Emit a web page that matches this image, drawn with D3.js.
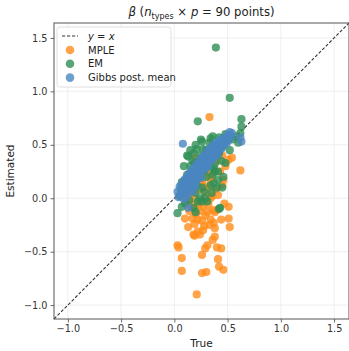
<!DOCTYPE html>
<html>
<head>
<meta charset="utf-8">
<script src="https://cdn.jsdelivr.net/npm/d3@7"></script>
<style>
  body { margin: 0; background: #fff; }
  svg { font-family: "DejaVu Sans", sans-serif; }
</style>
</head>
<body>
<svg id="chart" width="349" height="351"></svg>
<script>
// [true, estimated] pairs
const mplePoints = [
  [0.33, 0.76], [0.62, 0.26], [0.51, -0.08], [0.51, -0.19], [0.52, -0.27], [0.13, -0.27], [0.19, -0.35], [0.24, -0.34],
  [0.03, -0.44], [0.04, -0.46], [0.07, -0.56], [0.07, -0.68], [0.26, -0.53], [0.26, -0.70], [0.30, -0.69], [0.29, -0.47],
  [0.31, -0.44], [0.36, -0.39], [0.38, -0.36], [0.40, -0.46], [0.44, -0.47], [0.41, -0.57], [0.42, -0.64], [0.46, -0.67],
  [0.21, -0.90], [0.37, -0.23], [0.17, -0.19], [0.22, -0.20], [0.26, -0.21], [0.27, -0.30], [0.34, -0.20], [0.18, -0.34],
  [0.22, -0.31], [0.10, -0.19], [0.31, -0.13], [0.38, -0.13], [0.40, -0.11], [0.41, 0.03], [0.45, 0.12], [0.46, 0.17],
  [0.18, -0.09], [0.22, -0.06], [0.27, -0.08], [0.32, -0.06], [0.36, -0.11], [0.15, -0.02], [0.20, 0.38], [0.22, 0.19],
  [0.34, 0.17], [0.32, 0.10], [0.51, 0.36], [0.54, 0.38], [0.18, 0.03], [0.22, -0.04], [0.34, 0.00], [0.10, 0.10],
  [0.14, 0.12], [0.25, 0.28], [0.28, 0.30], [0.42, 0.45], [0.05, 0.02], [0.14, -0.12], [0.20, -0.15], [0.24, -0.12],
  [0.29, -0.16], [0.33, -0.25], [0.19, -0.24], [0.28, -0.26], [0.12, -0.05], [0.25, -0.02], [0.30, 0.05], [0.36, 0.02],
  [0.39, 0.08], [0.16, 0.05], [0.23, 0.08], [0.27, 0.12], [0.35, 0.20], [0.43, 0.25], [0.48, 0.30], [0.40, 0.35],
  [0.31, 0.22], [0.11, 0.00], [0.09, 0.04], [0.44, -0.20], [0.47, -0.05], [0.38, -0.28], [0.21, 0.25], [0.26, 0.16],
  [0.34, 0.28], [0.45, 0.40]
];
const emPoints = [
  [0.39, 1.41], [0.52, 0.94], [0.22, 0.72], [0.63, 0.74], [0.63, 0.67], [0.62, 0.61], [0.26, 0.53], [0.34, 0.56],
  [0.42, 0.57], [0.21, 0.46], [0.12, 0.40], [0.18, 0.42], [0.13, 0.39], [0.17, 0.35], [0.36, 0.22], [0.38, 0.25],
  [0.41, 0.17], [0.37, 0.14], [0.40, 0.10], [0.45, 0.10], [0.07, 0.15], [0.15, 0.10], [0.31, -0.03], [0.43, -0.09],
  [0.07, -0.08], [0.18, -0.09], [0.26, -0.03], [0.48, 0.33], [0.03, -0.14], [0.20, -0.13], [0.42, -0.10], [0.22, -0.03],
  [0.29, 0.00], [0.20, 0.50], [0.15, 0.30], [0.25, 0.40], [0.30, 0.45], [0.35, 0.48], [0.28, 0.38], [0.22, 0.30],
  [0.32, 0.35], [0.40, 0.40], [0.45, 0.48], [0.50, 0.55], [0.24, 0.20], [0.27, 0.25], [0.33, 0.30], [0.36, 0.38],
  [0.10, 0.15], [0.12, 0.22], [0.08, 0.05], [0.05, 0.02], [0.18, 0.20], [0.21, 0.12], [0.26, 0.10], [0.30, 0.20],
  [0.34, 0.12], [0.38, 0.32], [0.42, 0.42], [0.47, 0.52], [0.16, 0.25], [0.29, 0.27], [0.31, 0.40], [0.37, 0.28],
  [0.39, 0.50], [0.44, 0.35], [0.20, 0.05], [0.24, 0.00], [0.14, -0.02], [0.10, -0.05], [0.28, 0.06], [0.35, 0.05],
  [0.41, 0.25], [0.46, 0.20], [0.52, 0.45], [0.55, 0.55], [0.19, 0.33], [0.23, 0.36], [0.27, 0.46], [0.33, 0.52],
  [0.12, 0.08], [0.06, 0.09], [0.09, 0.30], [0.25, 0.55], [0.43, 0.50], [0.48, 0.60], [0.36, 0.58], [0.15, 0.45],
  [0.58, 0.58], [0.60, 0.52]
];
const gibbsPoints = [
  [0.03, 0.06], [0.04, 0.01], [0.05, 0.11], [0.06, 0.04], [0.07, 0.13], [0.08, 0.07], [0.08, 0.51], [0.09, 0.16],
  [0.10, 0.08], [0.10, 0.18], [0.11, 0.12], [0.12, 0.20], [0.12, 0.09], [0.13, -0.09], [0.13, 0.15], [0.14, 0.23],
  [0.15, 0.14], [0.15, 0.24], [0.16, 0.18], [0.17, 0.12], [0.17, 0.27], [0.18, 0.21], [0.19, 0.16], [0.19, 0.29],
  [0.20, 0.22], [0.21, 0.31], [0.21, 0.17], [0.22, 0.25], [0.22, 0.33], [0.23, 0.20], [0.23, 0.28], [0.24, 0.35],
  [0.24, 0.24], [0.25, 0.30], [0.25, 0.37], [0.26, 0.25], [0.26, 0.32], [0.27, 0.38], [0.27, 0.27], [0.28, 0.33],
  [0.28, 0.40], [0.29, 0.28], [0.29, 0.35], [0.30, 0.41], [0.30, 0.31], [0.31, 0.36], [0.31, 0.44], [0.32, 0.37],
  [0.32, 0.30], [0.33, 0.40], [0.33, 0.46], [0.34, 0.35], [0.34, 0.42], [0.35, 0.47], [0.35, 0.36], [0.36, 0.42],
  [0.36, 0.49], [0.37, 0.38], [0.37, 0.44], [0.38, 0.50], [0.38, 0.40], [0.39, 0.45], [0.39, 0.52], [0.40, 0.46],
  [0.40, 0.40], [0.41, 0.49], [0.41, 0.43], [0.42, 0.53], [0.42, 0.45], [0.43, 0.51], [0.44, 0.46], [0.44, 0.55],
  [0.45, 0.50], [0.46, 0.56], [0.47, 0.50], [0.48, 0.57], [0.49, 0.51], [0.50, 0.59], [0.51, 0.54], [0.52, 0.62],
  [0.53, 0.57], [0.54, 0.61], [0.17, 0.06], [0.20, 0.11], [0.14, 0.05], [0.62, 0.57], [0.63, 0.53], [0.11, 0.01],
  [0.25, 0.19], [0.09, -0.01]
];
const tickValues = [-1.0, -0.5, 0.0, 0.5, 1.0, 1.5];
const axisLimits = [-1.13, 1.64];

const series = [
  { name: 'MPLE', points: mplePoints, color: '#ff8c1a' },
  { name: 'EM', points: emPoints, color: '#2f8f55' },
  { name: 'Gibbs post. mean', points: gibbsPoints, color: '#4a86c0' }
];

const svg = d3.select('#chart');
const padL = 54, padR = 349, padT = 23, padB = 319;

const x = d3.scaleLinear().domain(axisLimits).range([padL, padR]);
const y = d3.scaleLinear().domain(axisLimits).range([padB, padT]);
const fmt = d3.format('.1f');

// grid
const grid = svg.append('g');
grid.selectAll('.gx').data(tickValues).enter().append('line')
  .attr('x1', d => x(d)).attr('x2', d => x(d)).attr('y1', padT).attr('y2', padB)
  .attr('stroke', '#ebebeb').attr('stroke-width', 0.8);
grid.selectAll('.gy').data(tickValues).enter().append('line')
  .attr('y1', d => y(d)).attr('y2', d => y(d)).attr('x1', padL).attr('x2', padR)
  .attr('stroke', '#ebebeb').attr('stroke-width', 0.8);

// y = x line
svg.append('line')
  .attr('x1', x(axisLimits[0])).attr('y1', y(axisLimits[0]))
  .attr('x2', x(axisLimits[1])).attr('y2', y(axisLimits[1]))
  .attr('stroke', '#333').attr('stroke-width', 1.1).attr('stroke-dasharray', '3.2,1.8');

// points
series.forEach(s => {
  svg.append('g').selectAll('circle').data(s.points).enter().append('circle')
    .attr('cx', d => x(d[0])).attr('cy', d => y(d[1])).attr('r', 4.1)
    .attr('fill', s.color).attr('fill-opacity', 0.8);
});

// axes
const xAxis = svg.append('g').attr('transform', `translate(0,${padB})`)
  .call(d3.axisBottom(x).tickValues(tickValues).tickFormat(fmt).tickSize(3.5).tickPadding(3));
const yAxis = svg.append('g').attr('transform', `translate(${padL},0)`)
  .call(d3.axisLeft(y).tickValues(tickValues).tickFormat(fmt).tickSize(3.5).tickPadding(3));
[xAxis, yAxis].forEach(a => {
  a.select('.domain').remove();
  a.selectAll('line').attr('stroke', '#444').attr('stroke-width', 0.8);
  a.selectAll('text').attr('fill', '#333').style('font-size', '9.7px').style('font-family', 'DejaVu Sans');
});

// frame
svg.append('rect').attr('x', padL).attr('y', padT).attr('width', padR - padL).attr('height', padB - padT)
  .attr('fill', 'none').attr('stroke', '#555').attr('stroke-width', 1);

// labels
svg.append('text').attr('x', (padL + padR) / 2).attr('y', 347).attr('text-anchor', 'middle')
  .style('font-size', '10.5px').attr('fill', '#222').text('True');
svg.append('text').attr('transform', `translate(14,${(padT + padB) / 2}) rotate(-90)`)
  .attr('text-anchor', 'middle').style('font-size', '10.5px').attr('fill', '#222').text('Estimated');

// title
const title = svg.append('text').attr('x', (padL + padR) / 2).attr('y', 16).attr('text-anchor', 'middle')
  .style('font-size', '11.7px').attr('fill', '#222');
title.append('tspan').style('font-style', 'italic').text('β');
title.append('tspan').text(' (');
title.append('tspan').style('font-style', 'italic').text('n');
title.append('tspan').attr('dy', 3).style('font-size', '8px').text('types');
title.append('tspan').attr('dy', -3).text(' × ');
title.append('tspan').style('font-style', 'italic').text('p');
title.append('tspan').text(' = 90 points)');

// legend
const lg = svg.append('g').attr('transform', 'translate(57,27)');
lg.append('rect').attr('width', 114).attr('height', 60).attr('rx', 2.5)
  .attr('fill', '#fff').attr('fill-opacity', 0.85).attr('stroke', '#d8d8d8').attr('stroke-width', 0.8);
lg.append('line').attr('x1', 5).attr('x2', 21).attr('y1', 9).attr('y2', 9)
  .attr('stroke', '#333').attr('stroke-width', 1.1).attr('stroke-dasharray', '3.2,1.8');
const lx = lg.append('text').attr('x', 31).attr('y', 12.5).style('font-size', '10px').attr('fill', '#222');
lx.append('tspan').style('font-style', 'italic').text('y');
lx.append('tspan').text(' = ');
lx.append('tspan').style('font-style', 'italic').text('x');
series.forEach((s, i) => {
  const yy = 23 + i * 13.8;
  lg.append('circle').attr('cx', 13).attr('cy', yy).attr('r', 4.3)
    .attr('fill', s.color).attr('fill-opacity', 0.8);
  lg.append('text').attr('x', 31).attr('y', yy + 3.6).style('font-size', '10px').attr('fill', '#222').text(s.name);
});
</script>
</body>
</html>
